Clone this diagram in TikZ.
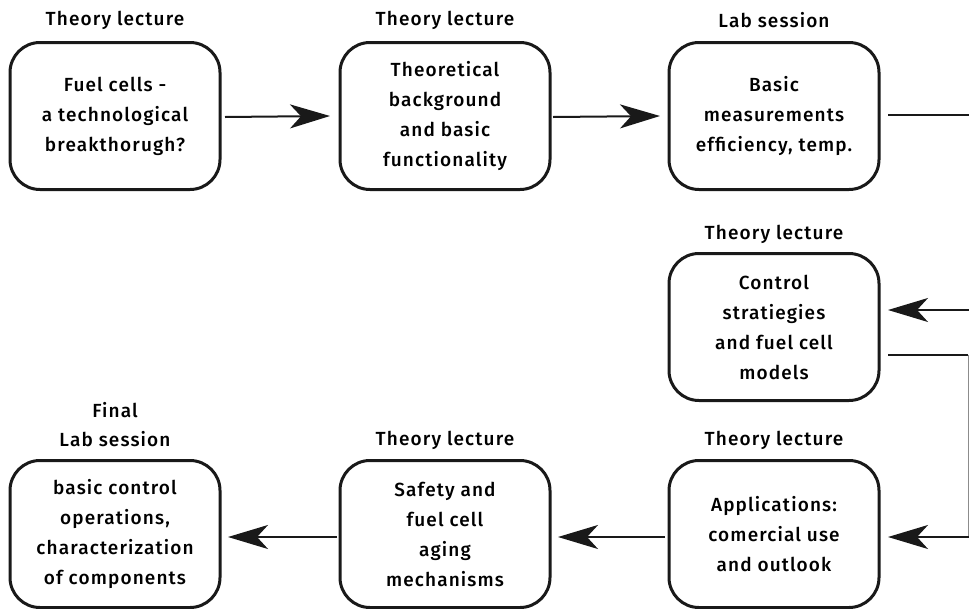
\documentclass[tikz,border=0pt]{standalone}
\usepackage{fontspec}
\setmainfont{Fira Sans}[UprightFont=* Medium, LetterSpace=6]
\usetikzlibrary{arrows.meta}
\begin{document}
\begin{tikzpicture}[x=1pt,y=-1pt,
  stage/.style={draw=black!90, line width=3pt, rounded corners=30pt,
    minimum width=210pt, minimum height=147pt, align=center,
    inner sep=0pt, font=\fontsize{19}{30}\selectfont},
  kind/.style={font=\fontsize{19}{29}\selectfont, align=center, inner sep=0pt},
  flow/.style={line width=2pt, draw=black!90,
    -{Stealth[length=40pt, width=24pt, inset=11pt]}},
  plain/.style={line width=2pt, draw=black!90},
  return/.style={line width=0.5pt, draw=black!45}]
\useasboundingbox (0,0) rectangle (969,608);

% stages
\node[stage] (s1) at (115,116) {Fuel cells -\\a technological\\breakthorugh?};
\node[stage] (s2) at (445,116) {Theoretical\\background\\and basic\\functionality};
\node[stage] (s3) at (774,116) {Basic\\measurements\\efficiency, temp.};
\node[stage] (s4) at (774,327) {Control\\stratiegies\\and fuel cell\\models};
\node[stage] (s5) at (774,534) {Applications:\\comercial use\\and outlook};
\node[stage] (s6) at (445,534) {Safety and\\fuel cell\\aging\\mechanisms};
\node[stage] (s7) at (115,534) {basic control\\operations,\\characterization\\of components};

% stage kinds
\node[kind] (k1) at (115,20) {Theory lecture};
\node[kind] (k2) at (445,20) {Theory lecture};
\node[kind] (k3) at (774,20) {Lab session};
\node[kind] (k4) at (774,234) {Theory lecture};
\node[kind] (k5) at (774,440) {Theory lecture};
\node[kind] (k6) at (445,440) {Theory lecture};
\node[kind] (k7) at (115,425) {Final\\Lab session};

% connection points on the right margin
\coordinate (r1) at (969,115);
\coordinate (r2) at (969,310);
\coordinate (r3) at (968,355);
\coordinate (r4) at (969,537);
\coordinate (a1) at (225,117);
\coordinate (a2) at (330,116);
\coordinate (a3) at (553,117);
\coordinate (a4) at (660,116);
\coordinate (a5) at (888,115);
\coordinate (a6) at (888,310);
\coordinate (a7) at (888,355);
\coordinate (a8) at (888,537);
\coordinate (a9) at (665,537);
\coordinate (a10) at (558,537);
\coordinate (a11) at (337,537);
\coordinate (a12) at (228,537);

% connectors
\draw[flow] (a1) -- (a2);
\draw[flow] (a3) -- (a4);
\draw[plain] (a5) -- (r1);
\draw[flow] (r2) -- (a6);
\draw[plain] (a7) -- (r3);
\draw[return] (r3) -- (968,537);
\draw[flow] (r4) -- (a8);
\draw[flow] (a9) -- (a10);
\draw[flow] (a11) -- (a12);
\end{tikzpicture}
\end{document}
